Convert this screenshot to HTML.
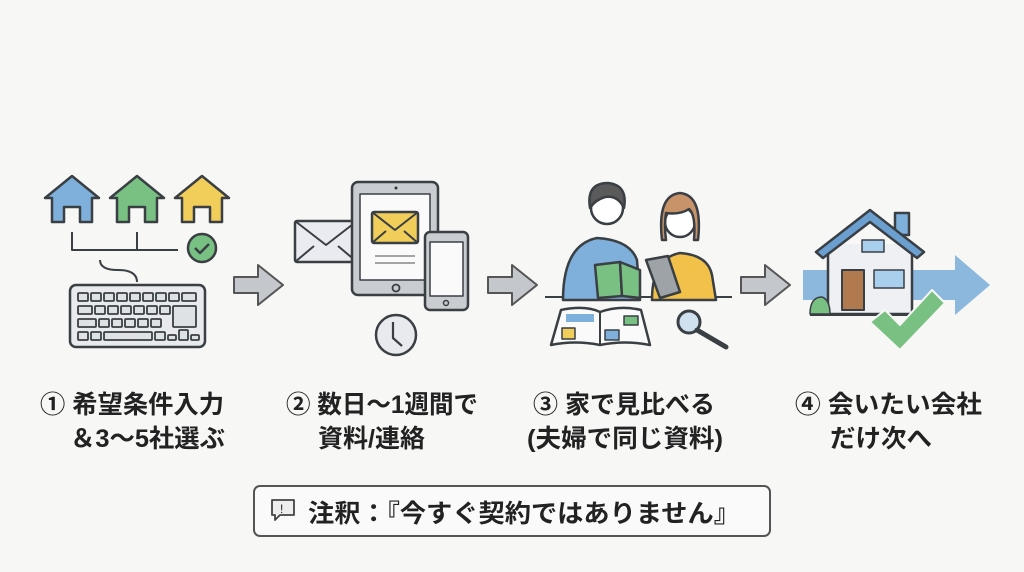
<!DOCTYPE html>
<html><head><meta charset="utf-8"><style>
html,body{margin:0;padding:0;background:#f7f7f5;}
svg{display:block}
text{font-family:"Liberation Sans","Noto Sans CJK JP",sans-serif;font-weight:bold;fill:#222}
</style></head><body>
<svg width="1024" height="572" viewBox="0 0 1024 572" xmlns="http://www.w3.org/2000/svg">
<rect width="1024" height="572" fill="#f7f7f5"/>
<g stroke="#3a3f44" stroke-width="2.5" stroke-linejoin="round">
<path d="M45,198 L72,176 L99,198 L92,198 L92,222 L80,222 L80,207 L64,207 L64,222 L52,222 L52,198Z" fill="#7fb0dc"/>
<path d="M110,198 L137,176 L164,198 L157,198 L157,222 L145,222 L145,207 L129,207 L129,222 L117,222 L117,198Z" fill="#79c083"/>
<path d="M175,198 L202,176 L229,198 L222,198 L222,222 L210,222 L210,207 L194,207 L194,222 L182,222 L182,198Z" fill="#f1cd5a"/>
<path d="M72,232 V250 H178 M137,232 V250" fill="none" stroke-width="2"/>
<circle cx="202" cy="248" r="14" fill="#79c083"/>
<path d="M195,248 l5,5 l9,-9" fill="none" stroke-width="2.5"/>
<path d="M100,260 q0,10 18,10 q19,0 19,12" fill="none" stroke-width="2"/>
<rect x="70" y="285" width="135" height="62" rx="6" fill="#e8eaed"/>
<g fill="#dfe2e5" stroke-width="1.8">
<rect x="78" y="293" width="10" height="8" rx="1"/><rect x="91" y="293" width="10" height="8" rx="1"/><rect x="104" y="293" width="10" height="8" rx="1"/><rect x="117" y="293" width="10" height="8" rx="1"/><rect x="130" y="293" width="10" height="8" rx="1"/><rect x="143" y="293" width="10" height="8" rx="1"/><rect x="156" y="293" width="10" height="8" rx="1"/><rect x="169" y="293" width="10" height="8" rx="1"/><rect x="182" y="293" width="14" height="8" rx="1"/>
<rect x="78" y="306" width="14" height="8" rx="1"/><rect x="95" y="306" width="10" height="8" rx="1"/><rect x="108" y="306" width="10" height="8" rx="1"/><rect x="121" y="306" width="10" height="8" rx="1"/><rect x="134" y="306" width="10" height="8" rx="1"/><rect x="147" y="306" width="10" height="8" rx="1"/><rect x="160" y="306" width="10" height="8" rx="1"/><rect x="173" y="306" width="23" height="21" rx="1"/>
<rect x="78" y="319" width="18" height="8" rx="1"/><rect x="99" y="319" width="10" height="8" rx="1"/><rect x="112" y="319" width="10" height="8" rx="1"/><rect x="125" y="319" width="10" height="8" rx="1"/><rect x="138" y="319" width="10" height="8" rx="1"/><rect x="151" y="319" width="10" height="8" rx="1"/>
<rect x="78" y="332" width="10" height="8" rx="1"/><rect x="91" y="332" width="10" height="8" rx="1"/><rect x="104" y="332" width="48" height="8" rx="1"/><rect x="155" y="332" width="10" height="8" rx="1"/><rect x="168" y="335" width="8" height="5" rx="1"/><rect x="179" y="330" width="9" height="10" rx="1"/><rect x="191" y="335" width="8" height="5" rx="1"/>
</g>
<path d="M234,277 H258 V265 L283,285 L258,305 V293 H234Z" fill="#c4c7cb" stroke="#555" stroke-width="2"/>
<path d="M488,277 H512 V265 L537,285 L512,305 V293 H488Z" fill="#c4c7cb" stroke="#555" stroke-width="2"/>
<path d="M741,277 H765 V265 L790,285 L765,305 V293 H741Z" fill="#c4c7cb" stroke="#555" stroke-width="2"/>
<rect x="295" y="221" width="62" height="41" rx="2" fill="#e9ebf0"/>
<path d="M295,221 L326,245 L357,221 M295,262 L314,246 M357,262 L338,246" fill="none" stroke-width="2"/>
<rect x="352" y="182" width="86" height="113" rx="6" fill="#c9ccd0"/>
<rect x="360" y="194" width="70" height="86" fill="#fafafa" stroke-width="1.5"/>
<circle cx="396" cy="188" r="1.5" fill="#333" stroke="none"/>
<circle cx="396" cy="288" r="3.5" fill="none" stroke-width="1.8"/>
<rect x="372" y="212" width="46" height="31" rx="2" fill="#f1cd5a"/>
<path d="M372,212 L395,230 L418,212 M372,243 L386,231 M418,243 L404,231" fill="none" stroke-width="2"/>
<path d="M375,256 H415 M375,263 H415" stroke="#888" stroke-width="1.5"/>
<rect x="425" y="232" width="43" height="78" rx="5" fill="#c9ccd0"/>
<rect x="430" y="242" width="33" height="54" fill="#fafafa" stroke-width="1.5"/>
<circle cx="446" cy="303" r="2.5" fill="none" stroke-width="1.5"/>
<circle cx="396" cy="335" r="20" fill="#e8eaed"/>
<path d="M393,322 V338 L402,346" fill="none" stroke-width="2.2"/>
<path d="M545,297 H732" stroke-width="2"/>
<path d="M563,300 Q563,245 597,238 Q630,240 637,260 L640,300Z" fill="#7fb0dc"/>
<circle cx="607" cy="208" r="16" fill="#fff"/>
<path d="M590,208 Q586,183 608,183 Q628,185 624,208 Q618,195 605,197 Q595,200 590,208Z" fill="#5a5a5a"/>
<path d="M652,300 Q652,258 680,253 Q708,255 712,275 L716,300Z" fill="#f1c14a"/>
<circle cx="680" cy="222" r="15" fill="#fff"/>
<path d="M662,240 Q657,195 680,193 Q703,195 698,240 L694,240 Q696,215 689,209 Q680,215 666,213 Q664,225 666,240Z" fill="#c9936a"/>
<path d="M595,265 L620,262 L622,296 L598,298Z" fill="#79c083"/>
<path d="M620,262 L640,270 L640,298 L622,296Z" fill="#79c083"/>
<path d="M646,260 L668,256 L680,292 L660,298Z" fill="#9ea3a8"/>
<path d="M551,345 L561,310 Q585,305 600,312 Q620,305 641,310 L650,345 Q625,340 600,345 Q575,340 551,345Z" fill="#fafafa"/>
<path d="M600,312 V345" stroke-width="2"/>
<rect x="566" y="314" width="28" height="8" fill="#7fb0dc" stroke="none"/>
<rect x="562" y="328" width="13" height="11" fill="#f1cd5a" stroke-width="1.5"/>
<rect x="624" y="316" width="14" height="9" fill="#79c083" stroke-width="1.5"/>
<rect x="605" y="330" width="14" height="10" fill="#7fb0dc" stroke-width="1.5"/>
<circle cx="689" cy="322" r="11" fill="#cfe0ee" stroke-width="3"/>
<path d="M697,330 L726,347" stroke-width="5" stroke-linecap="round"/>
<path d="M803,270 H955 V255 L990,285 L955,315 V300 H803Z" fill="#7fb0dc" stroke="none" opacity="0.9"/>
<rect x="895" y="213" width="14" height="22" fill="#7fb0dc"/>
<path d="M828,244 V314 H912 V244" fill="#eef0f3"/>
<path d="M816,252 L870,210 L924,252 L917,258 L870,222 L823,258Z" fill="#6a9fd0"/>
<rect x="862" y="240" width="22" height="12" fill="#a8d0ee" stroke-width="1.5"/>
<rect x="842" y="270" width="22" height="40" fill="#b07a4e" stroke-width="2"/>
<rect x="874" y="270" width="30" height="18" fill="#a8d0ee" stroke-width="1.5"/>
<path d="M810,314 Q810,297 822,297 Q830,300 830,314Z" fill="#79c083" stroke-width="1.5"/>
<path d="M810,315 H920" stroke-width="2"/>
<path d="M870,322 L885,310 L900,325 L932,290 L945,303 L900,350Z" fill="#79c083" stroke="#f7f7f5" stroke-width="2"/>
</g>
<g font-size="25">
<text x="40" y="413" textLength="184" lengthAdjust="spacingAndGlyphs">① 希望条件入力</text>
<text x="70" y="447" textLength="155" lengthAdjust="spacingAndGlyphs">＆3〜5社選ぶ</text>
<text x="286" y="413" textLength="192" lengthAdjust="spacingAndGlyphs">② 数日〜1週間で</text>
<text x="318" y="447" textLength="107" lengthAdjust="spacingAndGlyphs">資料/連絡</text>
<text x="533" y="413" textLength="182" lengthAdjust="spacingAndGlyphs">③ 家で見比べる</text>
<text x="527" y="447" textLength="196" lengthAdjust="spacingAndGlyphs">(夫婦で同じ資料)</text>
<text x="795" y="413" textLength="187" lengthAdjust="spacingAndGlyphs">④ 会いたい会社</text>
<text x="830" y="447" textLength="102" lengthAdjust="spacingAndGlyphs">だけ次へ</text>
</g>
<rect x="254" y="486" width="516" height="50" rx="6" fill="#fafafa" stroke="#555" stroke-width="2"/>
<path d="M272,500 h22 v15 h-14 l-5,5 v-5 h-3z" fill="#eee" stroke="#444" stroke-width="1.8" stroke-linejoin="round"/>
<text x="280" y="513" font-size="12" style="font-weight:normal">!</text>
<text x="308" y="522" font-size="25" textLength="432" lengthAdjust="spacingAndGlyphs">注釈：『今すぐ契約ではありません』</text>
</svg>
</body></html>
